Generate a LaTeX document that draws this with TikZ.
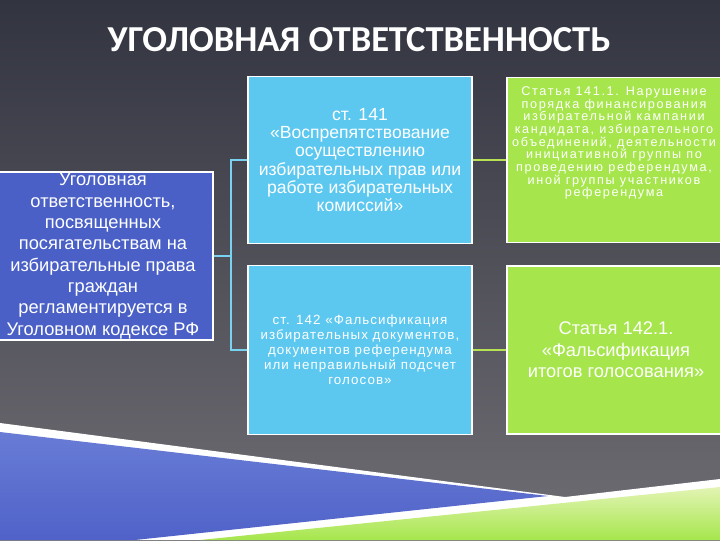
\documentclass[tikz,border=0pt]{standalone}
\usepackage{fontspec}
\setmainfont{Liberation Sans}
\newfontfamily\titlefont{Carlito}

\definecolor{bgtop}{RGB}{50,52,64}
\definecolor{bgbot}{RGB}{112,110,116}
\definecolor{crimblue}{RGB}{74,96,198}
\definecolor{artcyan}{RGB}{92,200,240}
\definecolor{artgreen}{RGB}{166,230,76}
\definecolor{linecyan}{RGB}{120,210,240}
\definecolor{linegreen}{RGB}{182,226,84}

\begin{document}
\begin{tikzpicture}[x=0.025cm, y=-0.025cm, line width=0.8pt,
	box/.style = {draw=white, text=white, align=center, inner sep=0pt},
	cyanline/.style = {linecyan, line width=0.9pt},
	greenline/.style = {linegreen, line width=0.9pt}]
		\useasboundingbox (0,0) rectangle (720,540);
		\clip (0,0) rectangle (720,540);
		\shade [top color=bgtop, bottom color=bgbot] (0,0) rectangle (720,540);

		% bands at the bottom
		\fill [white] (0,423) -- (565,497) -- (720,479) -- (720,540) -- (0,540) -- cycle;
		\shade [top color={rgb,255:red,104;green,124;blue,214}, middle color={rgb,255:red,180;green,192;blue,240},
			bottom color={rgb,255:red,80;green,98;blue,200}]
			(0,432) -- (548,496) -- (135,540) -- (0,540) -- cycle;
		\shade [top color={rgb,255:red,226;green,244;blue,180}, bottom color=artgreen]
			(200,540) -- (720,487) -- (720,540) -- cycle;

		\node [text=white, font=\titlefont\bfseries\fontsize{26}{30}\selectfont] (title) at (359,40)
			{УГОЛОВНАЯ ОТВЕТСТВЕННОСТЬ};

		\node [box, fill=crimblue, minimum width=5.5cm, minimum height=4.2cm,
			font=\fontsize{13}{15.2}\selectfont] (crim) at (103,256)
			{Уголовная\\ответственность,\\посвященных\\посягательствам на\\избирательные права\\граждан\\регламентируется в\\Уголовном кодексе РФ};

		\node [box, fill=artcyan, minimum width=5.6cm, minimum height=4.18cm,
			font=\fontsize{12.5}{12.9}\selectfont] (art141) at (360,160)
			{ст. 141\\«Воспрепятствование\\осуществлению\\избирательных прав или\\работе избирательных\\комиссий»};
		\node [box, fill=artcyan, minimum width=5.6cm, minimum height=4.22cm,
			font=\fontsize{9.5}{10.6}\selectfont\addfontfeature{LetterSpace=8}] (art142) at (360,350)
			{ст. 142 «Фальсификация\\избирательных документов,\\документов референдума\\или неправильный подсчет\\голосов»};

		\node [box, fill=artgreen, minimum width=5.45cm, minimum height=4.12cm] (art1411) at (616,160) {};
		\node [text=white, align=center, font=\fontsize{9}{9}\selectfont\addfontfeature{LetterSpace=13}]
			(art1411txt) at (614,143)
			{Статья 141.1. Нарушение\\порядка финансирования\\избирательной кампании\\кандидата, избирательного\\объединений, деятельности\\инициативной группы по\\проведению референдума,\\иной группы участников\\референдума};
		\node [box, fill=artgreen, minimum width=5.45cm, minimum height=4.2cm,
			font=\fontsize{13}{15.2}\selectfont] (art1421) at (616,350)
			{Статья 142.1.\\«Фальсификация\\итогов голосования»};

		% connectors
		\coordinate (fork) at (231,256);
		\draw [cyanline] (crim.east) -- (fork);
		\draw [cyanline] (art141.west) -| (fork) |- (art142.west);
		\draw [greenline] (art141.east) -- (art1411.west);
		\draw [greenline] (art142.east) -- (art1421.west);
	\end{tikzpicture}
\end{document}
